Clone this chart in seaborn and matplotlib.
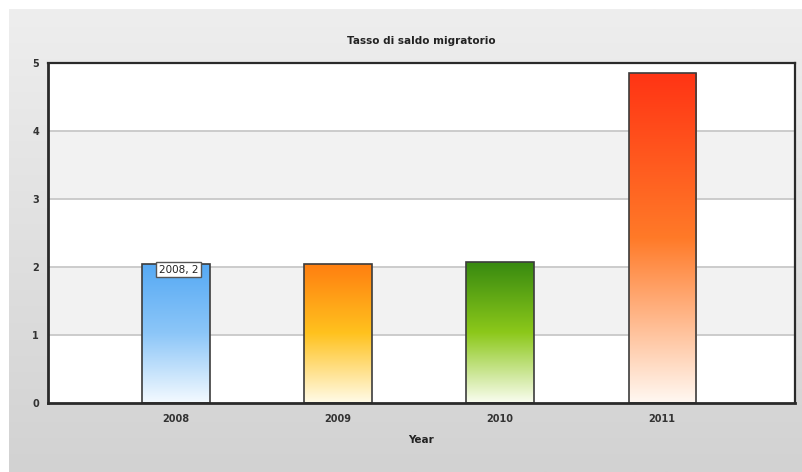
import numpy as np
import pandas as pd
import matplotlib
matplotlib.use("Agg")
import matplotlib.pyplot as plt
from matplotlib.colors import LinearSegmentedColormap
import seaborn as sns

# Data
years = ["2008", "2009", "2010", "2011"]
rates = [2.05, 2.05, 2.07, 4.85]

# Vertical gradient stops per bar (top -> bottom)
bar_gradients = [
    ["#55a9f4", "#8cc6f8", "#f4faff"],
    ["#ff7e10", "#ffc21e", "#fffbe8"],
    ["#388a10", "#8cc81a", "#fafdf0"],
    ["#ff3414", "#ff7a28", "#fff8f2"],
]

sns.set_theme(style="white")
plt.rcParams["font.family"] = ["DejaVu Sans"]

df = pd.DataFrame({"Year": years, "rate": rates})

fig = plt.figure(figsize=(8.02, 4.72), dpi=100)
fig.patch.set_facecolor("white")

# Light gray panel behind the chart, fading darker toward the bottom
bg = fig.add_axes([9 / 802, 0, 1 - 9 / 802, 463 / 472], zorder=0)
bg_cmap = LinearSegmentedColormap.from_list("panel", ["#eeeeee", "#d2d2d2"])
bg.imshow(np.linspace(0, 1, 256).reshape(-1, 1), aspect="auto", cmap=bg_cmap,
          extent=[0, 1, 0, 1])
bg.set_axis_off()

ax = fig.add_axes([48 / 802, 69 / 472, 747 / 802, 340 / 472], zorder=1)
ax.set_facecolor("white")

sns.barplot(data=df, x="Year", y="rate", ax=ax, width=0.415,
            color="white", edgecolor="#3c3c3c", linewidth=1.2, zorder=2)

ax.set_xlim(-0.79, 3.82)
ax.set_ylim(0, 5)

# Alternating horizontal bands and grid lines
for lo in (1, 3):
    ax.axhspan(lo, lo + 1, color="#f2f2f2", zorder=0, lw=0)
for v in (1, 2, 3, 4):
    ax.axhline(v, color="#c8c8c8", lw=1.3, zorder=0.5)

# Fill each bar with its vertical gradient
bars = list(ax.containers[0])
for patch, stops in zip(bars, bar_gradients):
    x0, y0 = patch.get_x(), patch.get_y()
    w, h = patch.get_width(), patch.get_height()
    cmap = LinearSegmentedColormap.from_list("bar", stops)
    grad = np.linspace(0, 1, 256).reshape(-1, 1)
    im = ax.imshow(grad, aspect="auto", cmap=cmap,
                   extent=[x0, x0 + w, y0, y0 + h], origin="upper", zorder=1.9)
    im.set_clip_path(patch)
    patch.set_facecolor("none")

# Tooltip on the first bar
first = bars[0]
ax.annotate(f"{years[0]}, {rates[0]:.0f}",
            xy=(first.get_x() + 0.1, rates[0]),
            xytext=(0, -4.5), textcoords="offset points",
            fontsize=7.5, color="#222222", va="center", ha="left",
            bbox=dict(boxstyle="square,pad=0.25", fc="white", ec="#555555", lw=1),
            zorder=5)

ax.set_yticks([0, 1, 2, 3, 4, 5])
ax.tick_params(axis="both", labelsize=7, colors="#333333", length=2.5, width=1,
               pad=4)
for lab in ax.get_xticklabels() + ax.get_yticklabels():
    lab.set_fontweight("bold")
ax.tick_params(axis="x", length=0, pad=8)

ax.set_xlabel("Year", fontsize=7.5, fontweight="bold", color="#222222", labelpad=8)
ax.set_ylabel("")
ax.set_title("Tasso di saldo migratorio", fontsize=7.5, fontweight="bold",
             color="#222222", pad=14)

for side, sp in ax.spines.items():
    sp.set_visible(True)
    sp.set_color("#2a2a2a")
    sp.set_linewidth(2 if side in ("left", "bottom") else 1.6)
    sp.set_zorder(4)

fig.savefig("out.png", dpi=100)
